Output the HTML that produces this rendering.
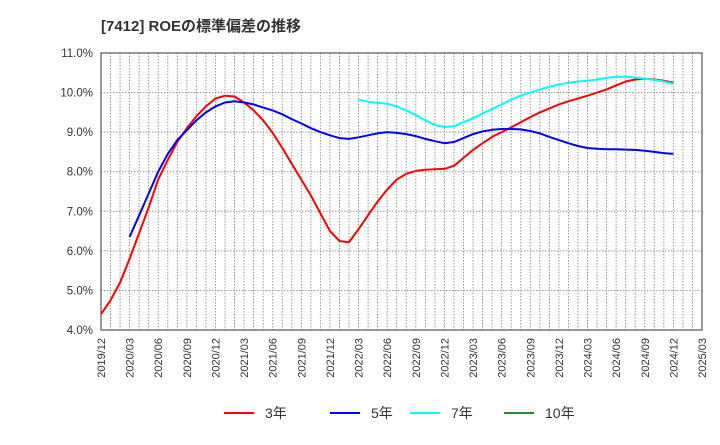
<!DOCTYPE html>
<html><head><meta charset="utf-8"><style>
body{margin:0;background:#fff;font-family:"Liberation Sans","Noto Sans CJK JP",sans-serif;}
</style></head><body>
<svg width="720" height="440" xmlns="http://www.w3.org/2000/svg" font-family="Liberation Sans, Noto Sans CJK JP, sans-serif">
<text x="101" y="31" font-size="15" font-weight="bold" fill="#333">[7412]  ROEの標準偏差の推移</text>
<g id="grid"></g><g id="axes"></g><g id="series"></g><g id="legend"></g>
</svg>
<script>
const yTicks=[4,5,6,7,8,9,10,11];
const xLabels=["2019/12","2020/03","2020/06","2020/09","2020/12","2021/03","2021/06","2021/09","2021/12","2022/03","2022/06","2022/09","2022/12","2023/03","2023/06","2023/09","2023/12","2024/03","2024/06","2024/09","2024/12","2025/03"];
const s3=[4.4,4.75,5.2,5.8,6.45,7.1,7.8,8.3,8.75,9.1,9.4,9.65,9.85,9.92,9.9,9.75,9.55,9.3,8.98,8.6,8.2,7.8,7.4,6.95,6.5,6.25,6.22,6.55,6.9,7.25,7.55,7.8,7.95,8.02,8.05,8.06,8.07,8.15,8.35,8.55,8.72,8.88,9.0,9.12,9.25,9.38,9.5,9.6,9.7,9.78,9.85,9.92,10.0,10.08,10.18,10.28,10.33,10.35,10.33,10.3,10.25];
const s5=[6.35,6.9,7.45,8.0,8.45,8.8,9.05,9.3,9.5,9.65,9.75,9.78,9.75,9.7,9.62,9.55,9.45,9.33,9.22,9.1,9.0,8.92,8.85,8.83,8.87,8.92,8.97,9.0,8.98,8.95,8.9,8.83,8.77,8.72,8.75,8.85,8.95,9.02,9.06,9.08,9.08,9.07,9.03,8.97,8.88,8.8,8.72,8.65,8.6,8.58,8.57,8.57,8.56,8.55,8.53,8.5,8.47,8.45];
const s7=[9.82,9.77,9.74,9.72,9.65,9.55,9.43,9.3,9.18,9.13,9.15,9.25,9.35,9.47,9.58,9.7,9.82,9.92,10.0,10.08,10.15,10.2,10.25,10.28,10.3,10.33,10.37,10.4,10.4,10.38,10.35,10.32,10.28,10.22];
const start5=3, start7=27;
const L=101,R=702,T=53,B=330,NM=63;
const X=m=>L+(R-L)*m/NM;
const Y=v=>B-(B-T)*(v-4)/7;
const ns="http://www.w3.org/2000/svg";
function mk(p,t,a){const e=document.createElementNS(ns,t);for(const k in a)e.setAttribute(k,a[k]);p.appendChild(e);return e;}
const grid=document.getElementById('grid'),axes=document.getElementById('axes'),ser=document.getElementById('series'),leg=document.getElementById('legend');
for(let m=1;m<NM;m++){const l=mk(grid,'line',{x1:X(m),x2:X(m),y1:T,y2:B,stroke:'#999','stroke-dasharray':'1.5,1.5','stroke-width':1});

}
yTicks.forEach(v=>{const l=mk(grid,'line',{x1:L,x2:R,y1:Y(v),y2:Y(v),stroke:'#999','stroke-dasharray':'1.5,1.5','stroke-width':1});


const t=mk(axes,'text',{x:L-8,y:Y(v)+4,'text-anchor':'end','font-size':11.5,fill:'#333'});t.textContent=v.toFixed(1)+'%';

});
const fr=mk(axes,'rect',{x:L,y:T,width:R-L,height:B-T,fill:'none',stroke:'#333','stroke-width':1});


xLabels.forEach((s,i)=>{const x=X(i*3)+4,y=B+8;const t=mk(axes,'text',{x:x,y:y,transform:`rotate(-90 ${x} ${y})`,'text-anchor':'end','font-size':11,fill:'#333'});t.textContent=s;

});
function line(data,off,col,name){const d=data.map((v,i)=>(i?'L':'M')+X(i+off).toFixed(1)+','+Y(v).toFixed(1)).join('');
const p=mk(ser,'path',{d:d,fill:'none',stroke:col,'stroke-width':2,'stroke-linejoin':'round'});

}
line(s3,0,'#f00','series-3y');line(s5,start5,'#00f','series-5y');line(s7,start7,'#0ff','series-7y');
const lg=[["3年","#f00",224],["5年","#00f",330],["7年","#0ff",410],["10年","#228b22",504]];
lg.forEach(e=>{const g=mk(leg,'g',{});


mk(g,'line',{x1:e[2],x2:e[2]+30,y1:413,y2:413,stroke:e[1],'stroke-width':2});
const t=mk(g,'text',{x:e[2]+41,y:418,'font-size':14,fill:'#333'});t.textContent=e[0];});
</script>
</body></html>
